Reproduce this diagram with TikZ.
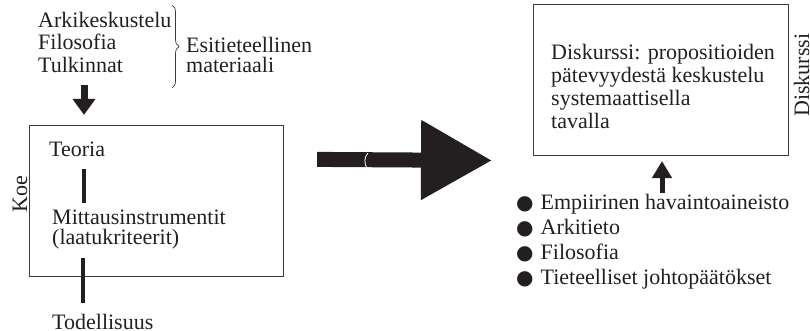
\documentclass[tikz,border=0pt]{standalone}
\usepackage{fontspec}
\setmainfont{Liberation Serif}
\newfontfamily\symbolit{DejaVu Sans}
\usepackage{tikz}
\usetikzlibrary{arrows.meta,positioning,calc,decorations.pathreplacing}
\usepackage{xcolor}
\definecolor{tummamuste}{HTML}{231F20}
\definecolor{reunaharmaa}{HTML}{3A3A3A}
\newcommand{\pallo}{{\symbolit\fontsize{20pt}{20pt}\selectfont ●}\hspace{7pt}}

\begin{document}
\begin{tikzpicture}[
  x=1pt, y=1pt,
  font=\fontsize{22pt}{22pt}\selectfont,
  text=tummamuste,
  teksti/.style={
    inner sep=0pt,
    anchor=base west,
    align=left
  },
  laatikko/.style={
    draw=reunaharmaa,
    line width=1.1pt,
    fill=none,
    anchor=south west,
    inner sep=0pt
  },
  pystyviiva/.style={
    draw=tummamuste,
    line width=4pt
  },
  pieninuoli/.style={
    draw=tummamuste,
    fill=tummamuste,
    line width=7pt,
    -{Triangle[length=16pt,width=22pt]}
  },
  isonuoli/.style={
    draw=tummamuste,
    fill=tummamuste,
    line width=15pt,
    -{Triangle[length=71pt,width=76pt]}
  }
]
  \useasboundingbox (0,0) rectangle (810,330);

  % --- Left: pre-scientific material ---
  \node[teksti, font=\fontsize{22pt}{22.5pt}\selectfont] (lahde) at (38,258)
    {Arkikeskustelu\\Filosofia\\Tulkinnat};
  \draw[draw=reunaharmaa, line width=0.7pt,
    decorate, decoration={brace, amplitude=7pt}]
    (172,325) -- (172,242) coordinate[midway] (aaltosulku);
  \node[teksti, font=\fontsize{22pt}{20pt}\selectfont] (esitiet) at (186,258)
    {Esitieteellinen\\materiaali};

  % --- Left box: the experiment ---
  \node[laatikko, minimum width=254pt, minimum height=151pt] (koe) at (29,53) {};
  \node[rotate=90, inner sep=0pt, anchor=base] (koeotsikko) at (27,136) {Koe};

  \node[teksti] (teoria) at (49,174) {Teoria};
  \node[teksti, font=\fontsize{22pt}{19.5pt}\selectfont] (mittaus) at (52,86)
    {Mittausinstrumentit\\(laatukriteerit)};
  \node[teksti] (todellisuus) at (52,1) {Todellisuus};

  % --- Right box: discourse ---
  \node[laatikko, minimum width=255pt, minimum height=151pt] (diskurssi) at (533,174) {};
  \node[teksti, font=\fontsize{22pt}{22.8pt}\selectfont] (diskteksti) at (551,202)
    {Diskurssi: propositioiden\\pätevyydestä keskustelu\\systemaattisella\\tavalla};
  \node[rotate=90, inner sep=0pt, anchor=base] (diskotsikko) at (809,255) {Diskurssi};

  \node[teksti, font=\fontsize{22pt}{25pt}\selectfont] (lista) at (516,46)
    {\pallo Empiirinen havaintoaineisto\\\pallo Arkitieto\\\pallo Filosofia\\\pallo Tieteelliset johtopäätökset};

  % Connecting lines and arrows
  \draw[pieninuoli] ([shift={(46pt,-13pt)}]lahde.base west)
    -- ([shift={(55pt,10pt)}]koe.north west);
  \draw[pystyviiva] ([shift={(35pt,-13pt)}]teoria.base west)
    -- ([shift={(32pt,41pt)}]mittaus.base west);
  \draw[pystyviiva] ([shift={(31pt,-14pt)}]mittaus.base west)
    -- ([shift={(31pt,26pt)}]todellisuus.base west);
  \draw[pieninuoli, line width=5pt, -{Triangle[length=17pt,width=19pt]}]
    ([shift={(146pt,91pt)}]lista.base west)
    -- ([shift={(129pt,-5pt)}]diskurssi.south west);

  % Big arrow from experiment to discourse
  \draw[isonuoli] ([shift={(33pt,-34.5pt)}]koe.north east)
    -- ([shift={(-41pt,-4.5pt)}]diskurssi.south west);
  \draw[white, line width=0.8pt] (368,177) .. controls (364,173) and (364,166) .. (367,162);

\end{tikzpicture}
\end{document}
